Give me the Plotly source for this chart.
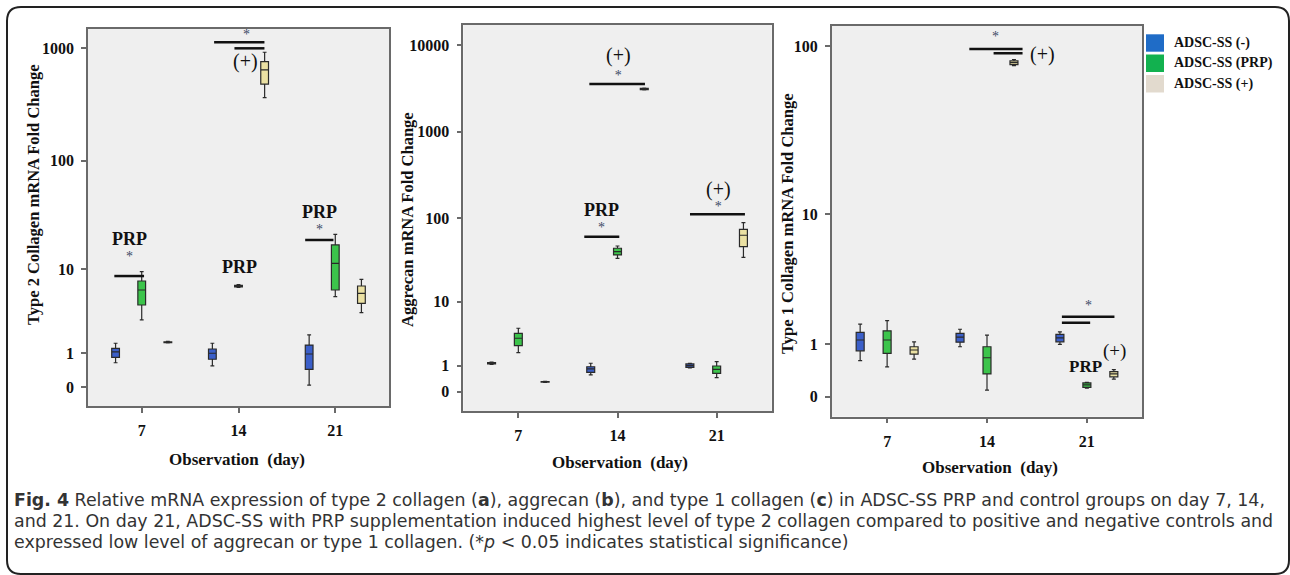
import numpy as np
import plotly.graph_objects as go

W, H = 1290, 575

# ---------------- data ----------------
days = ["7", "14", "21"]
groups = ["ADSC-SS (-)", "ADSC-SS (PRP)", "ADSC-SS (+)"]

# Type 2 collagen (panel a) fold change; rows = group, cols = day
col2_lo  = [[0.64, 0.54, 0.04], [2.92, 6.60, 5.30], [1.46, 363, 3.55]]
col2_q1  = [[0.83, 0.76, 0.43], [4.32, 6.70, 6.22], [1.47, 477, 4.50]]
col2_med = [[1.05, 0.99, 0.96], [6.22, 6.83, 11.4], [1.49, 638, 5.75]]
col2_q3  = [[1.20, 1.17, 1.35], [7.67, 6.95, 17.1], [1.51, 756, 6.83]]
col2_hi  = [[1.44, 1.44, 1.89], [9.50, 7.05, 21.4], [1.53, 916, 7.98]]

# Aggrecan (panel b)
agg_lo  = [[1.06, 0.56, 0.88], [1.82, 33.7, 0.45], [0.28, 3050, 34.6]]
agg_q1  = [[1.09, 0.67, 0.91], [2.40, 36.9, 0.63], [0.29, 3080, 46.2]]
agg_med = [[1.13, 0.83, 1.00], [3.14, 40.4, 0.81], [0.30, 3128, 63.0]]
agg_q3  = [[1.17, 0.94, 1.09], [3.72, 44.3, 0.98], [0.31, 3170, 74.0]]
agg_hi  = [[1.20, 1.13, 1.12], [4.40, 47.1, 1.22], [0.32, 3200, 88.4]]

# Type 1 collagen (panel c)
col1_lo  = [[0.61, 0.93, 0.99], [0.48, 0.09, 0.12], [0.64, 77.0, 0.26]]
col1_q1  = [[0.83, 1.05, 1.06], [0.77, 0.35, 0.13], [0.75, 78.0, 0.30]]
col1_med = [[1.11, 1.19, 1.17], [1.11, 0.67, 0.17], [0.85, 80.0, 0.35]]
col1_q3  = [[1.33, 1.30, 1.27], [1.38, 0.93, 0.20], [0.93, 82.0, 0.39]]
col1_hi  = [[1.60, 1.43, 1.35], [1.72, 1.25, 0.21], [1.06, 83.5, 0.43]]

col2_ticks = [0, 1, 10, 100, 1000]
agg_ticks = [0, 1, 10, 100, 1000, 10000]
col1_ticks = [0, 1, 10, 100]

# ---------------- style ----------------
box_fill = ["#3b5fc9", "#3cc44b", "#ebe1a3"]
legend_fill = ["#1f6cc7", "#12b14f", "#e2dace"]
offsets = [-0.27, 0.0, 0.27]
SERIF = "Liberation Serif, Times New Roman, serif"
STAR_COL = "#3c4a66"


def t(v):
    return np.log10(np.asarray(v, dtype=float) + 1.0)


def px(x):
    return x / W


def py(y):
    return 1 - y / H


fig = go.Figure()

panels = [
    dict(lo=col2_lo, q1=col2_q1, med=col2_med, q3=col2_q3, hi=col2_hi, ticks=col2_ticks,
         title="Type 2 Collagen mRNA Fold Change", dom_x=(88, 389), dom_y=(29, 406),
         yr=(-0.168, 3.168), ytx=33, yty=195, xtx=237, xty=459),
    dict(lo=agg_lo, q1=agg_q1, med=agg_med, q3=agg_q3, hi=agg_hi, ticks=agg_ticks,
         title="Aggrecan mRNA Fold Change", dom_x=(463.3, 771.7), dom_y=(25, 411),
         yr=(-0.223, 4.234), ytx=407, yty=220, xtx=620, xty=463),
    dict(lo=col1_lo, q1=col1_q1, med=col1_med, q3=col1_q3, hi=col1_hi, ticks=col1_ticks,
         title="Type 1 Collagen mRNA Fold Change", dom_x=(831.7, 1142.3), dom_y=(25.7, 416.7),
         yr=(-0.114, 2.12), ytx=787, yty=224, xtx=990, xty=467),
]

annotations = []
shapes = []

for i, p in enumerate(panels):
    ax = "" if i == 0 else str(i + 1)
    xref, yref = "x" + ax, "y" + ax
    for g in range(3):
        fig.add_trace(go.Box(
            x=[d + offsets[g] for d in range(3)],
            q1=t(p["q1"][g]), median=t(p["med"][g]), q3=t(p["q3"][g]),
            lowerfence=t(p["lo"][g]), upperfence=t(p["hi"][g]),
            width=0.08, whiskerwidth=0.5,
            fillcolor=box_fill[g], line=dict(color="#2a2a2a", width=1.2),
            boxpoints=False, showlegend=False, name=groups[g],
            xaxis=xref, yaxis=yref, hoverinfo="skip",
        ))
    axis_common = dict(showgrid=False, zeroline=False, showline=True, linecolor="#6a6a6a",
                       linewidth=1.5, mirror=True, ticks="outside", ticklen=5,
                       tickcolor="#6a6a6a", tickwidth=1.5, ticklabelstandoff=4,
                       tickfont=dict(family=SERIF, size=16, color="#111"))
    fig.update_layout(**{
        "xaxis" + ax: dict(domain=[px(p["dom_x"][0]), px(p["dom_x"][1])], range=[-0.555, 2.555],
                           tickvals=[0, 1, 2], ticktext=["<b>%s</b>" % d for d in days],
                           anchor=yref, **axis_common),
        "yaxis" + ax: dict(domain=[py(p["dom_y"][1]), py(p["dom_y"][0])], range=list(p["yr"]),
                           tickvals=list(t(p["ticks"])),
                           ticktext=["<b>%d</b>" % v for v in p["ticks"]],
                           anchor=xref, **axis_common),
    })
    annotations.append(dict(x=px(p["ytx"]), y=py(p["yty"]), xref="paper", yref="paper",
                            text="<b>" + p["title"] + "</b>", textangle=-90, showarrow=False,
                            font=dict(family=SERIF, size=16.5, color="#111"),
                            xanchor="center", yanchor="middle"))
    annotations.append(dict(x=px(p["xtx"]), y=py(p["xty"]), xref="paper", yref="paper",
                            text="<b>Observation  (day)</b>", showarrow=False,
                            font=dict(family=SERIF, size=17, color="#111"),
                            xanchor="center", yanchor="middle"))

# significance bars: (panel, x0, x1, y) in axis units
sig_bars = [
    (0, -0.283, 0.024, 0.982), (0, 1.689, 1.981, 1.301),
    (0, 0.748, 1.268, 3.05), (0, 0.958, 1.268, 2.997),
    (1, 0.716, 1.277, 3.553), (1, 0.665, 1.018, 1.79), (1, 1.731, 2.285, 2.049),
    (2, 0.823, 1.356, 1.987), (2, 1.066, 1.356, 1.962),
    (2, 1.75, 2.276, 0.457), (2, 1.75, 2.033, 0.423),
]
for pnl, x0, x1, yv in sig_bars:
    ax = "" if pnl == 0 else str(pnl + 1)
    shapes.append(dict(type="line", xref="x" + ax, yref="y" + ax, x0=x0, x1=x1, y0=yv, y1=yv,
                       line=dict(color="#111", width=2.5)))

PRP_T = '<span style="font-size:18px"><b>PRP</b></span>'
PLUS_T = '<span style="font-size:20px">(+)</span>'
STAR_T = '<span style="font-size:14px;color:%s">*</span>' % STAR_COL

# group labels over significance bars: (panel, x, y, text, base font size)
sig_text = [
    (0, -0.13, 1.239, PRP_T + "<br>" + STAR_T, 12.3),
    (0, 1.006, 1.062, PRP_T, 18),
    (0, 1.84, 1.478, PRP_T + "<br>" + STAR_T, 12.3),
    (0, 1.086, 3.115, STAR_T, 14),
    (0, 1.068, 2.879, PLUS_T, 20),
    (1, 1.006, 3.786, PLUS_T + "<br>" + STAR_T, 13.6),
    (1, 0.841, 2.0075, PRP_T + "<br>" + STAR_T, 12.1),
    (1, 2.015, 2.262, PLUS_T + "<br>" + STAR_T, 11.5),
    (2, 1.083, 2.057, STAR_T, 14),
    (2, 1.556, 1.953, PLUS_T, 20),
    (2, 2.016, 0.524, STAR_T, 14),
    (2, 1.99, 0.171, '<span style="font-size:17px"><b>PRP</b></span>', 17),
    (2, 2.276, 0.263, '<span style="font-size:19px">(+)</span>', 19),
]
for pnl, xv, yv, txt, base in sig_text:
    ax = "" if pnl == 0 else str(pnl + 1)
    annotations.append(dict(x=xv, y=yv, xref="x" + ax, yref="y" + ax, showarrow=False,
                            text=txt, borderpad=0,
                            font=dict(family=SERIF, size=base, color="#111"),
                            xanchor="center", yanchor="middle"))

# legend
leg_rows = [(34.3, 51.7), (54.5, 72), (75, 92.5)]
for g in range(3):
    y0, y1 = leg_rows[g]
    shapes.append(dict(type="rect", xref="paper", yref="paper", x0=px(1146), x1=px(1164),
                       y0=py(y1), y1=py(y0), fillcolor=legend_fill[g], line=dict(width=0)))
    annotations.append(dict(x=px(1173), y=py((y0 + y1) / 2), xref="paper", yref="paper",
                            text="<b>" + groups[g] + "</b>", showarrow=False, borderpad=0,
                            font=dict(family=SERIF, size=14, color="#111"),
                            xanchor="left", yanchor="middle"))

# rounded figure border
x0, x1, y0, y1, r = 7, 1289, 7, 574, 14
path = ("M {a},{b} L {c},{b} Q {x1},{b} {x1},{d} L {x1},{e} Q {x1},{f} {c},{f} "
        "L {a},{f} Q {x0},{f} {x0},{e} L {x0},{d} Q {x0},{b} {a},{b} Z").format(
    a=px(x0 + r), b=py(y0), c=px(x1 - r), d=py(y0 + r), e=py(y1 - r), f=py(y1),
    x0=px(x0), x1=px(x1))
shapes.append(dict(type="path", xref="paper", yref="paper", path=path,
                   line=dict(color="#222", width=2)))

# caption (one text block; line pitch = 1.3 x base size)
CAP = "DejaVu Sans, Open Sans, sans-serif"
cap_lines = [
    "<b>Fig. 4</b> Relative mRNA expression of type 2 collagen (<b>a</b>), aggrecan (<b>b</b>), and type 1 collagen (<b>c</b>) in ADSC-SS PRP and control groups on day 7, 14,",
    "and 21. On day 21, ADSC-SS with PRP supplementation induced highest level of type 2 collagen compared to positive and negative controls and",
    "expressed low level of aggrecan or type 1 collagen. (*<i>p</i> &lt; 0.05 indicates statistical significance)",
]
cap_text = "<br>".join('<span style="font-size:17.4px">%s</span>' % ln for ln in cap_lines)
annotations.append(dict(x=px(13), y=py(521), xref="paper", yref="paper", text=cap_text,
                        showarrow=False, xanchor="left", yanchor="middle", align="left",
                        borderpad=0, font=dict(family=CAP, size=16, color="#333")))

fig.update_layout(width=W, height=H, autosize=False, margin=dict(l=0, r=0, t=0, b=0),
                  paper_bgcolor="white", plot_bgcolor="#efefef",
                  annotations=annotations, shapes=shapes, showlegend=False)

fig.write_html("out.html")
